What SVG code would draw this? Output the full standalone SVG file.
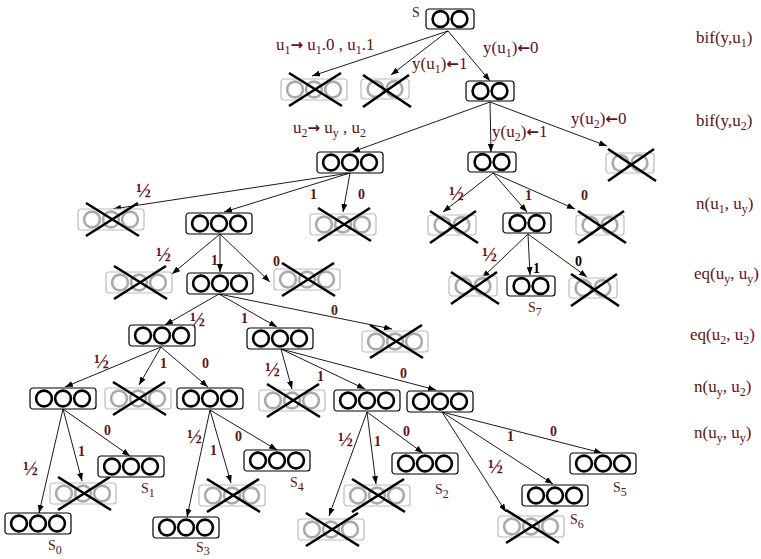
<svg xmlns="http://www.w3.org/2000/svg" xmlns:xlink="http://www.w3.org/1999/xlink" width="761" height="559" viewBox="0 0 761 559">
<style>
.t{font-family:"Liberation Serif",serif;font-size:17px;fill:#661010}
.ar{font-family:"DejaVu Sans",sans-serif;font-weight:bold;font-size:15px}
.sl{font-family:"Liberation Serif",serif;font-size:14px;fill:#661010}
.b{font-family:"Liberation Serif",serif;font-weight:bold;font-size:14px;fill:#661010}
.h{font-size:20px}
.k{fill:#000}
.s{font-size:12px}
.bx{fill:#fff;stroke:#000;stroke-width:1.2}
.gbx{fill:#fff;stroke:#bbb;stroke-width:1.2}
.c{fill:none;stroke:#000;stroke-width:2.6}
.gc{fill:none;stroke:#aaa;stroke-width:2.6}
.x{stroke:#000;stroke-width:2.6;fill:none}
.e{stroke:#000;stroke-width:0.9;fill:none;marker-end:url(#ah)}
</style>
<defs>
<marker id="ah" markerWidth="8" markerHeight="6" refX="8" refY="3" orient="auto" markerUnits="userSpaceOnUse"><path d="M0,0 L8,3 L0,6 z" fill="#000"/></marker>
<g id="b3"><rect class="bx" x="0" y="0" width="66" height="21" rx="3"/><circle class="c" cx="14" cy="10.5" r="7.9"/><circle class="c" cx="33" cy="10.5" r="7.9"/><circle class="c" cx="52" cy="10.5" r="7.9"/></g>
<g id="b2"><rect class="bx" x="0" y="0" width="48" height="20" rx="3"/><circle class="c" cx="14.5" cy="10" r="7.9"/><circle class="c" cx="33.5" cy="10" r="7.9"/></g>
<g id="g3"><rect class="gbx" x="0" y="0" width="66" height="21" rx="3"/><circle class="gc" cx="14" cy="10.5" r="7.9"/><circle class="gc" cx="33" cy="10.5" r="7.9"/><circle class="gc" cx="52" cy="10.5" r="7.9"/><path class="x" d="M8,-6 L61,27 M8,27 L60,-6"/></g>
<g id="g2"><rect class="gbx" x="0" y="0" width="48" height="20" rx="3"/><circle class="gc" cx="14.5" cy="10" r="7.9"/><circle class="gc" cx="33.5" cy="10" r="7.9"/><path class="x" d="M2,-4 L50,28 M2,28 L48,-4"/></g>
</defs>
<rect width="761" height="559" fill="#fff"/>
<g id="connectors">
<line class="e" x1="448" y1="31" x2="312" y2="76"/>
<line class="e" x1="448" y1="31" x2="391" y2="75"/>
<line class="e" x1="448" y1="31" x2="490" y2="81"/>
<line class="e" x1="490" y1="102" x2="352" y2="152"/>
<line class="e" x1="490" y1="102" x2="491" y2="152"/>
<line class="e" x1="490" y1="102" x2="607" y2="146"/>
<line class="e" x1="350" y1="173" x2="113" y2="209"/>
<line class="e" x1="350" y1="173" x2="224" y2="212"/>
<line class="e" x1="350" y1="173" x2="343" y2="212"/>
<line class="e" x1="493" y1="173" x2="443" y2="212"/>
<line class="e" x1="493" y1="173" x2="527" y2="212"/>
<line class="e" x1="493" y1="173" x2="575" y2="209"/>
<line class="e" x1="220" y1="234" x2="172" y2="274"/>
<line class="e" x1="220" y1="234" x2="220" y2="272"/>
<line class="e" x1="220" y1="234" x2="270" y2="282"/>
<line class="e" x1="528" y1="234" x2="482" y2="278"/>
<line class="e" x1="528" y1="234" x2="530" y2="275"/>
<line class="e" x1="528" y1="234" x2="587" y2="277"/>
<line class="e" x1="219" y1="294" x2="165" y2="325"/>
<line class="e" x1="219" y1="294" x2="277" y2="327"/>
<line class="e" x1="219" y1="294" x2="392" y2="329"/>
<line class="e" x1="161" y1="347" x2="65" y2="387"/>
<line class="e" x1="161" y1="347" x2="139" y2="385"/>
<line class="e" x1="161" y1="347" x2="208" y2="387"/>
<line class="e" x1="281" y1="349" x2="292" y2="389"/>
<line class="e" x1="281" y1="349" x2="365" y2="389"/>
<line class="e" x1="281" y1="349" x2="436" y2="390"/>
<line class="e" x1="63" y1="409" x2="39" y2="513"/>
<line class="e" x1="63" y1="409" x2="82" y2="481"/>
<line class="e" x1="63" y1="409" x2="130" y2="456"/>
<line class="e" x1="210" y1="410" x2="187" y2="517"/>
<line class="e" x1="210" y1="410" x2="231" y2="483"/>
<line class="e" x1="210" y1="410" x2="277" y2="450"/>
<line class="e" x1="367" y1="412" x2="329" y2="516"/>
<line class="e" x1="367" y1="412" x2="376" y2="484"/>
<line class="e" x1="367" y1="412" x2="423" y2="453"/>
<line class="e" x1="442" y1="412" x2="506" y2="512"/>
<line class="e" x1="442" y1="412" x2="553" y2="484"/>
<line class="e" x1="442" y1="412" x2="602" y2="453"/>
</g>
<g id="n_s"><use xlink:href="#b2" x="426" y="9"/><text class="sl" x="412" y="17">S</text></g>
<g id="n_x1a"><use xlink:href="#g3" x="281" y="79"/></g>
<g id="n_x1b"><use xlink:href="#g2" x="361" y="79"/></g>
<g id="n_1"><use xlink:href="#b2" x="466" y="81"/></g>
<g id="n_2a"><use xlink:href="#b3" x="317" y="152"/></g>
<g id="n_2b"><use xlink:href="#b2" x="468" y="152"/></g>
<g id="n_x2c"><use xlink:href="#g2" x="606" y="153"/></g>
<g id="n_x3a"><use xlink:href="#g3" x="78" y="209"/></g>
<g id="n_3b"><use xlink:href="#b3" x="186" y="213"/></g>
<g id="n_x3c"><use xlink:href="#g3" x="310" y="214"/></g>
<g id="n_x3d"><use xlink:href="#g2" x="428" y="215"/></g>
<g id="n_3e"><use xlink:href="#b2" x="503" y="213"/></g>
<g id="n_x3f"><use xlink:href="#g2" x="576" y="215"/></g>
<g id="n_x4a"><use xlink:href="#g3" x="106" y="272"/></g>
<g id="n_4b"><use xlink:href="#b3" x="187" y="273"/></g>
<g id="n_x4c"><use xlink:href="#g3" x="274" y="269"/></g>
<g id="n_x4d"><use xlink:href="#g2" x="449" y="276"/></g>
<g id="n_s7"><use xlink:href="#b2" x="507" y="276"/><text class="sl" x="528" y="312">S<tspan class="s" dy="4">7</tspan></text></g>
<g id="n_x4f"><use xlink:href="#g2" x="569" y="278"/></g>
<g id="n_5a"><use xlink:href="#b3" x="129" y="325"/></g>
<g id="n_5b"><use xlink:href="#b3" x="247" y="328"/></g>
<g id="n_x5c"><use xlink:href="#g3" x="362" y="331"/></g>
<g id="n_6a"><use xlink:href="#b3" x="30" y="388"/></g>
<g id="n_x6b"><use xlink:href="#g3" x="105" y="388"/></g>
<g id="n_6c"><use xlink:href="#b3" x="177" y="388"/></g>
<g id="n_x6d"><use xlink:href="#g3" x="259" y="390"/></g>
<g id="n_6e"><use xlink:href="#b3" x="334" y="390"/></g>
<g id="n_6f"><use xlink:href="#b3" x="407" y="391"/></g>
<g id="n_s0"><use xlink:href="#b3" x="5" y="513"/><text class="sl" x="48" y="550">S<tspan class="s" dy="4">0</tspan></text></g>
<g id="n_x7a"><use xlink:href="#g3" x="50" y="483"/></g>
<g id="n_s1"><use xlink:href="#b3" x="98" y="456"/><text class="sl" x="141" y="493">S<tspan class="s" dy="4">1</tspan></text></g>
<g id="n_s3"><use xlink:href="#b3" x="153" y="517"/><text class="sl" x="196" y="552">S<tspan class="s" dy="3">3</tspan></text></g>
<g id="n_x7b"><use xlink:href="#g3" x="199" y="485"/></g>
<g id="n_s4"><use xlink:href="#b3" x="244" y="450"/><text class="sl" x="290" y="487">S<tspan class="s" dy="4">4</tspan></text></g>
<g id="n_x7c"><use xlink:href="#g3" x="298" y="519"/></g>
<g id="n_x7d"><use xlink:href="#g3" x="344" y="485"/></g>
<g id="n_s2"><use xlink:href="#b3" x="392" y="453"/><text class="sl" x="435" y="494">S<tspan class="s" dy="4">2</tspan></text></g>
<g id="n_x7e"><use xlink:href="#g3" x="498" y="516"/></g>
<g id="n_s6"><use xlink:href="#b3" x="522" y="485"/><text class="sl" x="570" y="524">S<tspan class="s" dy="4">6</tspan></text></g>
<g id="n_s5"><use xlink:href="#b3" x="570" y="453"/><text class="sl" x="613" y="492">S<tspan class="s" dy="4">5</tspan></text></g>
<g id="labels">
<text class="t" x="276" y="50">u<tspan class="s" dy="4">1</tspan><tspan class="ar" dy="-4">→</tspan><tspan> u</tspan><tspan class="s" dy="4">1</tspan><tspan dy="-4">.0 , u</tspan><tspan class="s" dy="4">1</tspan><tspan dy="-4">.1</tspan></text>
<text class="t" x="412" y="69">y(u<tspan class="s" dy="4">1</tspan><tspan dy="-4">)</tspan><tspan class="ar">←</tspan><tspan>1</tspan></text>
<text class="t" x="483" y="53">y(u<tspan class="s" dy="4">1</tspan><tspan dy="-4">)</tspan><tspan class="ar">←</tspan><tspan>0</tspan></text>
<text class="t" x="293" y="133">u<tspan class="s" dy="4">2</tspan><tspan class="ar" dy="-4">→</tspan><tspan> u</tspan><tspan class="s" dy="4">y</tspan><tspan dy="-4"> , u</tspan><tspan class="s" dy="4">2</tspan></text>
<text class="t" x="492" y="137">y(u<tspan class="s" dy="4">2</tspan><tspan dy="-4">)</tspan><tspan class="ar">←</tspan><tspan>1</tspan></text>
<text class="t" x="571" y="124">y(u<tspan class="s" dy="4">2</tspan><tspan dy="-4">)</tspan><tspan class="ar">←</tspan><tspan>0</tspan></text>
<text class="t" x="696" y="43">bif(y,u<tspan class="s" dy="4">1</tspan><tspan dy="-4">)</tspan></text>
<text class="t" x="696" y="126">bif(y,u<tspan class="s" dy="4">2</tspan><tspan dy="-4">)</tspan></text>
<text class="t" x="696" y="209">n(u<tspan class="s" dy="4">1</tspan><tspan dy="-4">, u</tspan><tspan class="s" dy="4">y</tspan><tspan dy="-4">)</tspan></text>
<text class="t" x="694" y="279">eq(u<tspan class="s" dy="4">y</tspan><tspan dy="-4">, u</tspan><tspan class="s" dy="4">y</tspan><tspan dy="-4">)</tspan></text>
<text class="t" x="690" y="340">eq(u<tspan class="s" dy="4">2</tspan><tspan dy="-4">, u</tspan><tspan class="s" dy="4">2</tspan><tspan dy="-4">)</tspan></text>
<text class="t" x="694" y="392">n(u<tspan class="s" dy="4">y</tspan><tspan dy="-4">, u</tspan><tspan class="s" dy="4">2</tspan><tspan dy="-4">)</tspan></text>
<text class="t" x="694" y="438">n(u<tspan class="s" dy="4">y</tspan><tspan dy="-4">, u</tspan><tspan class="s" dy="4">y</tspan><tspan dy="-4">)</tspan></text>
<text class="b h" x="136" y="197">½</text>
<text class="b" x="310" y="199">1</text>
<text class="b" x="358" y="199">0</text>
<text class="b h" x="449" y="200">½</text>
<text class="b" x="525" y="200">1</text>
<text class="b" x="581" y="200">0</text>
<text class="b h" x="156" y="261">½</text>
<text class="b" x="211" y="265">1</text>
<text class="b" x="273" y="266">0</text>
<text class="b h" x="482" y="261">½</text>
<text class="b k" x="533" y="273">1</text>
<text class="b k" x="575" y="266">0</text>
<text class="b h" x="190" y="326">½</text>
<text class="b" x="241" y="323">1</text>
<text class="b" x="331" y="315">0</text>
<text class="b h" x="94" y="368">½</text>
<text class="b" x="160" y="368">1</text>
<text class="b" x="202" y="368">0</text>
<text class="b h" x="265" y="376">½</text>
<text class="b" x="317" y="381">1</text>
<text class="b" x="400" y="378">0</text>
<text class="b h" x="23" y="475">½</text>
<text class="b" x="78" y="456">1</text>
<text class="b" x="104" y="435">0</text>
<text class="b h" x="187" y="443">½</text>
<text class="b" x="210" y="455">1</text>
<text class="b" x="235" y="441">0</text>
<text class="b h" x="338" y="446">½</text>
<text class="b" x="374" y="446">1</text>
<text class="b" x="403" y="436">0</text>
<text class="b h" x="488" y="473">½</text>
<text class="b" x="507" y="441">1</text>
<text class="b" x="550" y="436">0</text>
</g>
</svg>
